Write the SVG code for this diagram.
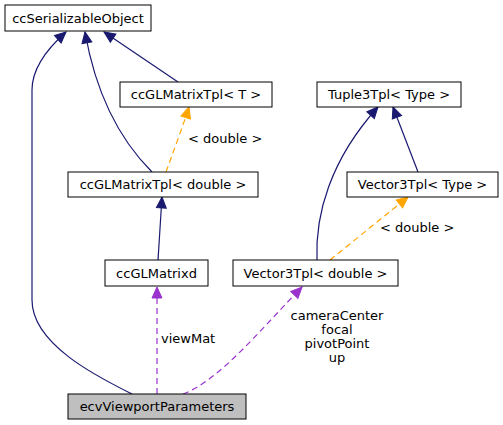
<svg xmlns="http://www.w3.org/2000/svg" width="503" height="425" viewBox="0 0 503 425">
<style>
text{font-family:"DejaVu Sans",sans-serif;font-size:13px;fill:#000}
.node rect{fill:#fff;stroke:#000;stroke-width:1}
.node text{text-anchor:middle}
.inh{fill:none;stroke:#191970;stroke-width:1.2}
.tpl{fill:none;stroke:#ffa500;stroke-width:1.2;stroke-dasharray:6,4}
.use{fill:none;stroke:#9a32cd;stroke-width:1.2;stroke-dasharray:6,4}
</style>
<defs>
<marker id="aN" markerUnits="userSpaceOnUse" markerWidth="12" markerHeight="12" refX="11" refY="5" orient="auto" viewBox="0 0 12 10" overflow="visible"><path d="M0,0 L11,5 L0,10 z" fill="#191970" stroke="#191970"/></marker>
<marker id="aO" markerUnits="userSpaceOnUse" markerWidth="12" markerHeight="12" refX="11" refY="5" orient="auto" viewBox="0 0 12 10" overflow="visible"><path d="M0,0 L11,5 L0,10 z" fill="#ffa500" stroke="#ffa500"/></marker>
<marker id="aP" markerUnits="userSpaceOnUse" markerWidth="12" markerHeight="12" refX="11" refY="5" orient="auto" viewBox="0 0 12 10" overflow="visible"><path d="M0,0 L11,5 L0,10 z" fill="#9a32cd" stroke="#9a32cd"/></marker>
</defs>
<g id="edges">
<path class="inh" d="M132,394 C100,378 32,345 32,300 L32,90 C32,68 48,48 66,32" marker-end="url(#aN)"/>
<path class="inh" d="M152,172 C120,140 96,95 85,32" marker-end="url(#aN)"/>
<path class="inh" d="M178,82 L104,32" marker-end="url(#aN)"/>
<path class="tpl" d="M166,172 C172,155 183,126 189,107" marker-end="url(#aO)"/>
<text x="188" y="143">&lt; double &gt;</text>
<path class="inh" d="M158,260 L162,197" marker-end="url(#aN)"/>
<path class="inh" d="M317,260 C315,215 330,160 378,107" marker-end="url(#aN)"/>
<path class="inh" d="M418,172 L393,107" marker-end="url(#aN)"/>
<path class="tpl" d="M330,260 L408,197" marker-end="url(#aO)"/>
<text x="380" y="232">&lt; double &gt;</text>
<path class="use" d="M157,394 L157,287" marker-end="url(#aP)"/>
<text x="161" y="343">viewMat</text>
<path class="use" d="M183,394 C220,380 260,330 302,287" marker-end="url(#aP)"/>
<text x="337" y="320" text-anchor="middle">cameraCenter</text>
<text x="337" y="334" text-anchor="middle">focal</text>
<text x="337" y="348" text-anchor="middle">pivotPoint</text>
<text x="337" y="362" text-anchor="middle">up</text>
</g>
<g id="ccSerializableObject" class="node"><rect x="5" y="5" width="146" height="26"/><text x="78" y="23">ccSerializableObject</text></g>
<g id="ccGLMatrixTpl_T" class="node"><rect x="120" y="82" width="152" height="25"/><text x="196" y="98.5">ccGLMatrixTpl&lt; T &gt;</text></g>
<g id="Tuple3Tpl_Type" class="node"><rect x="317" y="82" width="144" height="25"/><text x="389" y="98.5">Tuple3Tpl&lt; Type &gt;</text></g>
<g id="ccGLMatrixTpl_double" class="node"><rect x="68" y="172" width="190" height="25"/><text x="163" y="188.5">ccGLMatrixTpl&lt; double &gt;</text></g>
<g id="Vector3Tpl_Type" class="node"><rect x="347" y="172" width="151" height="25"/><text x="422.5" y="188.5">Vector3Tpl&lt; Type &gt;</text></g>
<g id="ccGLMatrixd" class="node"><rect x="105" y="260" width="103" height="26"/><text x="156.5" y="277.5">ccGLMatrixd</text></g>
<g id="Vector3Tpl_double" class="node"><rect x="233" y="260" width="165" height="26"/><text x="315.5" y="277.5">Vector3Tpl&lt; double &gt;</text></g>
<g id="ecvViewportParameters" class="node"><rect x="68" y="394" width="178" height="25" style="fill:#bfbfbf"/><text x="157" y="411">ecvViewportParameters</text></g>
</svg>
